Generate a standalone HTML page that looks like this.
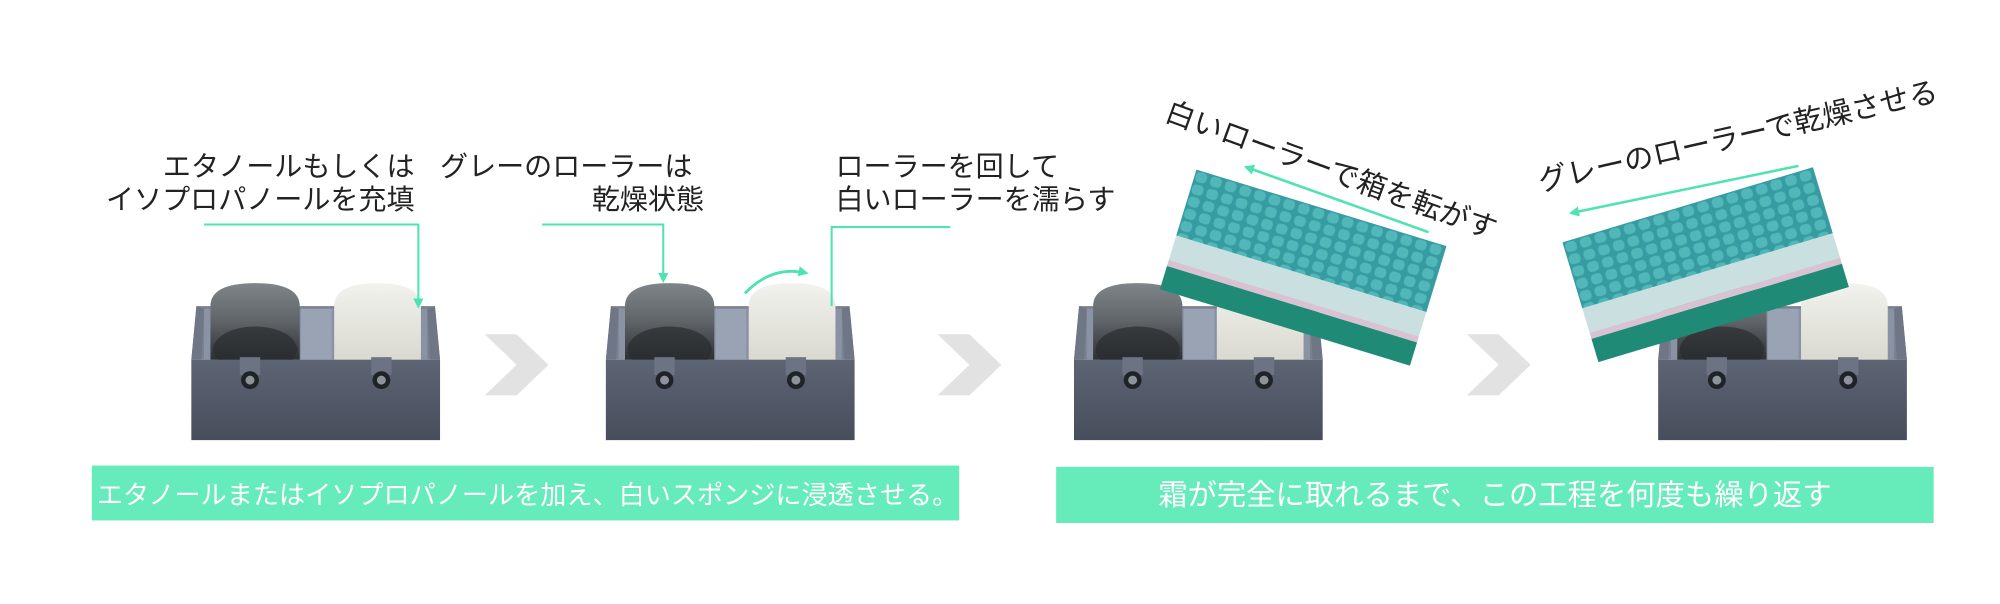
<!DOCTYPE html>
<html><head><meta charset="utf-8">
<style>
html,body{margin:0;padding:0;background:#fff;}
svg{display:block;}
text{font-family:"Liberation Sans","Noto Sans CJK JP",sans-serif;}
</style></head>
<body>
<svg width="2000" height="604" viewBox="0 0 1568 473.5" xmlns="http://www.w3.org/2000/svg">
<defs>
  <linearGradient id="front" x1="0" y1="0" x2="0" y2="1">
    <stop offset="0" stop-color="#5d6474"/><stop offset="1" stop-color="#474d5b"/>
  </linearGradient>
  <linearGradient id="gray" x1="0" y1="0" x2="0" y2="1">
    <stop offset="0" stop-color="#80858a"/><stop offset="0.5" stop-color="#5f6468"/><stop offset="1" stop-color="#2e3134"/>
  </linearGradient>
  <linearGradient id="white" x1="0" y1="0" x2="0" y2="1">
    <stop offset="0" stop-color="#f2f2ee"/><stop offset="1" stop-color="#d9d9d0"/>
  </linearGradient>
  <pattern id="grid" width="12" height="10" patternUnits="userSpaceOnUse">
    <rect width="12" height="10" fill="#3aa0a6"/>
    <rect x="1" y="1" width="9" height="8" rx="3" fill="#5cc4c4"/>
  </pattern>
  <g id="box">
    <polygon points="4,18 191,18 195,60 0,60" fill="#7a8191"/>
    <rect x="10" y="20" width="175" height="40" fill="#8a93a3"/>
    <rect x="86" y="20" width="24" height="40" fill="#9aa3b3"/>
    <path d="M15,60 L15,18 Q15,0 50,0 Q85,0 85,18 L85,60 Z" fill="url(#gray)"/>
    <ellipse cx="50" cy="52" rx="33" ry="18" fill="#2a2c2f" opacity="0.7"/>
    <path d="M112,60 L112,18 Q112,0 146,0 Q180,0 180,18 L180,60 Z" fill="url(#white)"/>
    <polygon points="0,60 195,60 195,123 0,123" fill="url(#front)"/>
    <polygon points="0,60 4,18 10,20 8,60" fill="#6f7686"/>
    <polygon points="195,60 191,18 185,20 187,60" fill="#6f7686"/>
    <rect x="38" y="58" width="16" height="14" fill="#6c7382"/>
    <circle cx="46" cy="76" r="7" fill="#1f2226"/><circle cx="46" cy="76" r="3.5" fill="#8d939b"/>
    <rect x="141" y="58" width="16" height="14" fill="#6c7382"/>
    <circle cx="149" cy="76" r="7" fill="#1f2226"/><circle cx="149" cy="76" r="3.5" fill="#8d939b"/>
  </g>
  <g id="tray">
    <rect x="0" y="0" width="205" height="54" fill="url(#grid)"/>
    <rect x="0" y="0" width="205" height="54" fill="#2f8f98" opacity="0.25"/>
    <rect x="0" y="54" width="205" height="20" fill="#c9dfe0"/>
    <rect x="0" y="74" width="205" height="5" fill="#d9c3d3"/>
    <rect x="0" y="79" width="205" height="19" fill="#1f8a76"/>
  </g>
  <marker id="ah" markerWidth="8" markerHeight="8" refX="6" refY="4" orient="auto" markerUnits="userSpaceOnUse">
    <path d="M0,0 L8,4 L0,8 Z" fill="#4fe3b2"/>
  </marker>
</defs>

<g font-size="22" fill="#222">
  <text x="325" y="138" text-anchor="end">エタノールもしくは</text>
  <text x="325" y="164" text-anchor="end">イソプロパノールを充填</text>
  <text x="345" y="138">グレーのローラーは</text>
  <text x="552" y="164" text-anchor="end">乾燥状態</text>
  <text x="655" y="138">ローラーを回して</text>
  <text x="655" y="164">白いローラーを濡らす</text>
  <text transform="translate(912,94) rotate(20)" font-size="23">白いローラーで箱を転がす</text>
  <text transform="translate(1208,150) rotate(-12.8)" font-size="23">グレーのローラーで乾燥させる</text>
</g>

<use href="#box" x="150" y="222"/>
<use href="#box" x="475" y="222"/>
<use href="#box" x="842" y="222"/>
<use href="#box" x="1300" y="222"/>

<g transform="translate(938,133) rotate(17)"><use href="#tray"/></g>
<g transform="translate(1225,190) rotate(-16.7)"><use href="#tray"/></g>

<g fill="#e2e2e2">
  <polygon points="380,262 405,262 430,286 405,310 380,310 405,286"/>
  <polygon points="735,262 760,262 785,286 760,310 735,310 760,286"/>
  <polygon points="1150,262 1175,262 1200,286 1175,310 1150,310 1175,286"/>
</g>

<g stroke="#4fe3b2" stroke-width="1.6" fill="none">
  <polyline points="160,176 328,176 328,240" marker-end="url(#ah)"/>
  <polyline points="425,176 520,176 520,220" marker-end="url(#ah)"/>
  <polyline points="745,178 652,178 652,240"/>
  <path d="M584,230 Q605,208 632,214" stroke-width="2.2" marker-end="url(#ah)"/>
  <line x1="1120" y1="182" x2="977" y2="131" stroke-width="2" marker-end="url(#ah)"/>
  <line x1="1410" y1="130" x2="1232" y2="167" stroke-width="2" marker-end="url(#ah)"/>
</g>

<rect x="72" y="365" width="680" height="43" fill="#66ebba"/>
<text x="76" y="395" font-size="20.5" fill="#fff">エタノールまたはイソプロパノールを加え、白いスポンジに浸透させる。</text>
<rect x="828" y="366" width="688" height="44" fill="#66ebba"/>
<text x="1172" y="396" font-size="23" fill="#fff" text-anchor="middle">霜が完全に取れるまで、この工程を何度も繰り返す</text>
</svg>
</body></html>
